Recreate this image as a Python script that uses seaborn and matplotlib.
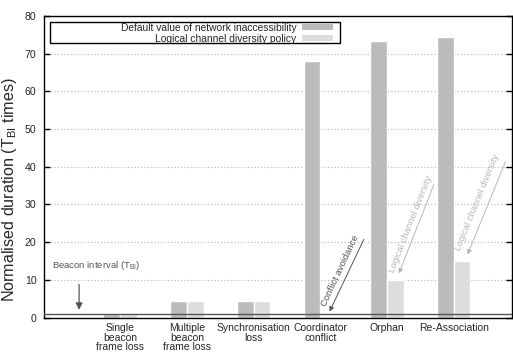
import matplotlib
matplotlib.use("Agg")
import matplotlib.pyplot as plt
import seaborn as sns
import pandas as pd
from matplotlib.patches import Patch, Rectangle

# ---- data ----
categories = ["", "Single\nbeacon\nframe loss", "Multiple\nbeacon\nframe loss",
              "Synchronisation\nloss", "Coordinator\nconflict", "Orphan", "Re-Association"]
series_names = ["Default value of network inaccessibility", "Logical channel diversity policy"]
default_values = [1.0, 4.3, 4.3, 68.0, 73.5, 74.5]
diversity_values = [1.0, 4.3, 4.3, 0.0, 10.0, 15.0]
y_ticks = [0, 10, 20, 30, 40, 50, 60, 70, 80]
beacon_interval = 1.0

rows = []
for c, v in zip(categories[1:], default_values):
    rows.append({"cat": c, "series": series_names[0], "val": v})
for c, v in zip(categories[1:], diversity_values):
    rows.append({"cat": c, "series": series_names[1], "val": v})
df = pd.DataFrame(rows)

sns.set_theme(style="white")
plt.rcParams['font.family'] = ['Liberation Sans', 'DejaVu Sans']
plt.rcParams['mathtext.fontset'] = 'custom'
plt.rcParams['mathtext.rm'] = 'Liberation Sans'
plt.rcParams['mathtext.it'] = 'Liberation Sans:italic'

colors = ["#bbbbbb", "#dddddd"]

fig = plt.figure(figsize=(5.13, 3.63), dpi=100)
ax = fig.add_axes([0.0858, 0.1253, 0.912, 0.8306])

sns.barplot(data=df, x="cat", y="val", hue="series", order=categories,
            hue_order=series_names, palette=colors, width=0.5, saturation=1,
            legend=False, ax=ax, errorbar=None)

ax.set_xlim(-0.14, 6.87)
ax.set_ylim(0, 80)
ax.set_yticks(y_ticks)
ax.set_xlabel("")
ax.set_ylabel(r"Normalised duration (T$_{\mathrm{BI}}$ times)", fontsize=11.6)
ax.yaxis.set_label_coords(-0.053, 0.423)

for s in ax.spines.values():
    s.set_color("black")
    s.set_linewidth(1.0)
    s.set_visible(True)

ax.yaxis.grid(True, linestyle=(0, (1, 2)), color="#b5b5b5", linewidth=0.8)
ax.set_axisbelow(True)
ax.tick_params(axis='y', direction='in', left=True, right=True, length=4.5,
               width=1, labelsize=7.6, pad=5.5, color='black')
ax.tick_params(axis='x', length=0, labelsize=7.5, pad=4)
for lbl in ax.get_xticklabels():
    lbl.set_linespacing(0.95)

# beacon interval line
ax.axhline(beacon_interval, color="#555555", lw=1.0, zorder=3)

# legend box + legend
ax.add_patch(Rectangle((0.0128, 0.9104), 0.6197, 0.0696, transform=ax.transAxes,
                       fill=False, edgecolor='black', lw=1.0, zorder=5))
handles = [Patch(facecolor=colors[0], edgecolor='none'),
           Patch(facecolor=colors[1], edgecolor='none')]
ax.legend(handles, series_names, loc='upper right', bbox_to_anchor=(0.618, 0.977),
          frameon=False, markerfirst=False, fontsize=7.4, borderpad=0,
          borderaxespad=0, handlelength=3, handleheight=0.5, labelspacing=0.1,
          handletextpad=0.6)

# annotations
dark = "#555555"
light = "#b8b8b8"
ax.text(-0.018, 13.9, r"Beacon interval (T$_{\mathrm{BI}}$)", fontsize=6.8, color=dark,
        ha='left', va='center')
ax.annotate("", xy=(0.386, 1.3), xytext=(0.386, 9.5),
            arrowprops=dict(arrowstyle='-|>', color=dark, lw=0.9, mutation_scale=10))

ax.annotate("", xy=(4.12, 0.9), xytext=(4.67, 21.4),
            arrowprops=dict(arrowstyle='-|>', color=dark, lw=0.7, mutation_scale=7))
ax.text(4.30, 12.45, "Conflict avoidance", fontsize=6.8, color=dark, rotation=65,
        rotation_mode='anchor', ha='center', va='center')

ax.annotate("", xy=(5.162, 11.0), xytext=(5.716, 35.95),
            arrowprops=dict(arrowstyle='-|>', color=light, lw=0.7, mutation_scale=7))
ax.text(5.35, 24.8, "Logical channel diversity", fontsize=6.8, color=light, rotation=68.5,
        rotation_mode='anchor', ha='center', va='center')

ax.annotate("", xy=(6.19, 16.0), xytext=(6.79, 42.05),
            arrowprops=dict(arrowstyle='-|>', color=light, lw=0.7, mutation_scale=7))
ax.text(6.36, 30.6, "Logical channel diversity", fontsize=6.8, color=light, rotation=67.8,
        rotation_mode='anchor', ha='center', va='center')

fig.savefig("out.png", dpi=100)
